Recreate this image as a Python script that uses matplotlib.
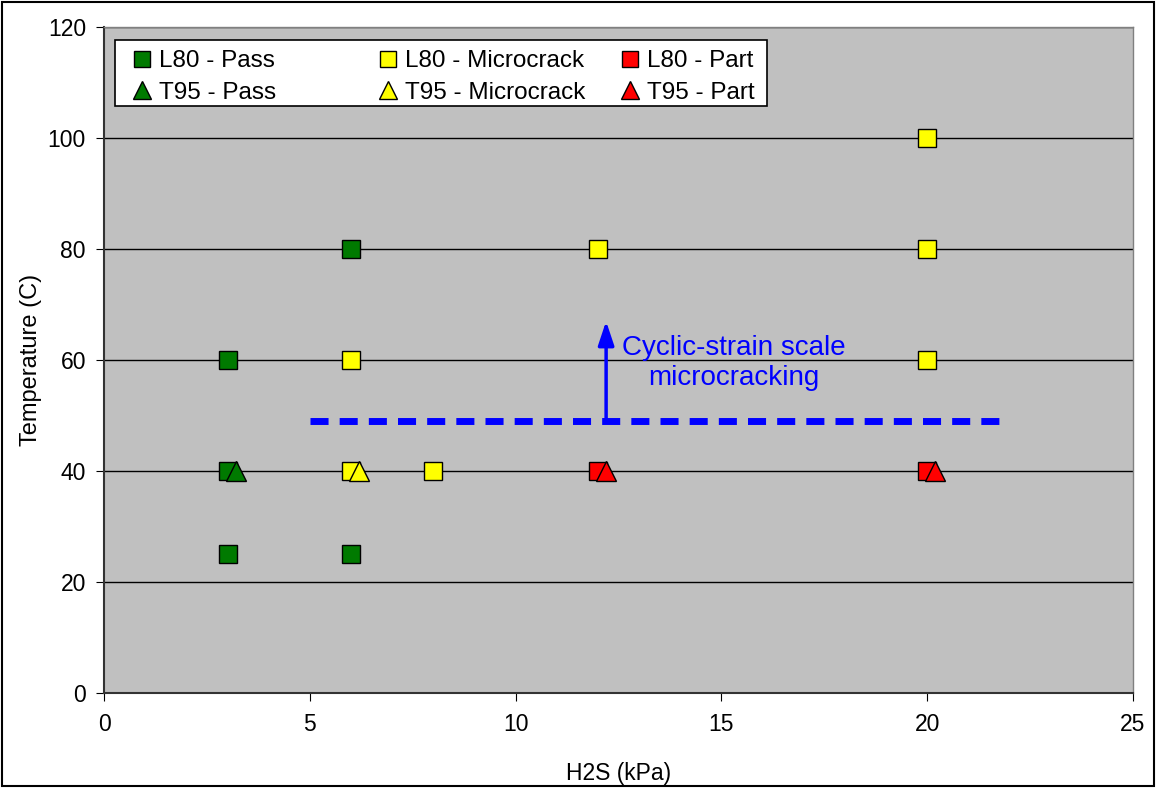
import matplotlib
matplotlib.use('Agg')
import matplotlib.pyplot as plt
from matplotlib.patches import Rectangle

plt.rcParams['font.family'] = ['Liberation Sans', 'DejaVu Sans']

# data
l80_pass_x = [3, 3, 3, 6, 6]
l80_pass_y = [60, 40, 25, 80, 25]
l80_micro_x = [6, 6, 8, 12, 20, 20, 20]
l80_micro_y = [60, 40, 40, 80, 100, 80, 60]
l80_part_x = [12, 20]
l80_part_y = [40, 40]
t95_pass_x = [3.2]
t95_pass_y = [40]
t95_micro_x = [6.2]
t95_micro_y = [40]
t95_part_x = [12.2, 20.2]
t95_part_y = [40, 40]

threshold_x = [5, 22]
threshold_y = [49, 49]
arrow_x = 12.2
arrow_y = (49, 67)

fig = plt.figure(figsize=(11.56, 7.88), dpi=100)
ax = fig.add_axes([0.090, 0.1206, 0.890, 0.845])
ax.set_facecolor('#C0C0C0')

for y in range(20, 121, 20):
    ax.axhline(y, color='black', lw=1.0, zorder=1)

ms = 13
kw = dict(linestyle='none', markeredgecolor='black', markeredgewidth=1.0, zorder=3)
h1, = ax.plot(l80_pass_x, l80_pass_y, 's', ms=ms, color='#007A00', label='L80 - Pass', **kw)
h2, = ax.plot(t95_pass_x, t95_pass_y, '^', ms=ms + 2, color='#007A00', label='T95 - Pass', **kw)
h3, = ax.plot(l80_micro_x, l80_micro_y, 's', ms=ms, color='#FFFF00', label='L80 - Microcrack', **kw)
h4, = ax.plot(t95_micro_x, t95_micro_y, '^', ms=ms + 2, color='#FFFF00', label='T95 - Microcrack', **kw)
h5, = ax.plot(l80_part_x, l80_part_y, 's', ms=ms, color='#FF0000', label='L80 - Part', **kw)
h6, = ax.plot(t95_part_x, t95_part_y, '^', ms=ms + 2, color='#FF0000', label='T95 - Part', **kw)

ax.plot(threshold_x, threshold_y, color='#0000FF', lw=5, dashes=(2.6, 1.6), zorder=2)
ax.annotate('', xy=(arrow_x, arrow_y[1]), xytext=(arrow_x, arrow_y[0]),
            arrowprops=dict(arrowstyle='-|>,head_length=0.9,head_width=0.3', color='#0000FF',
                            lw=2.5, mutation_scale=16, shrinkA=0, shrinkB=0), zorder=2)
ax.text(15.3, 59.4, 'Cyclic-strain scale\nmicrocracking', color='#0000FF',
        fontsize=20, ha='center', va='center', linespacing=1.2)

ax.set_xlim(0, 25)
ax.set_ylim(0, 120)
ax.set_xticks(range(0, 26, 5))
ax.set_yticks(range(0, 121, 20))
ax.tick_params(direction='out', length=6, labelsize=16.5, colors='black')
ax.tick_params(axis='x', pad=8.5)
ax.tick_params(axis='y', pad=7)
ax.set_xlabel('H2S (kPa)', fontsize=16.5, labelpad=19)
ax.set_ylabel('Temperature (C)', fontsize=17, labelpad=4)

for s in ['left', 'bottom']:
    ax.spines[s].set_color('#333333')
    ax.spines[s].set_linewidth(1.5)
for s in ['top', 'right']:
    ax.spines[s].set_color('#808080')
    ax.spines[s].set_linewidth(1.0)

# legend frame drawn separately: the original has wide side margins, tight top/bottom
ax.add_patch(Rectangle((0.0107, 0.8814), 0.6336, 0.0991, transform=ax.transAxes,
                       facecolor='white', edgecolor='black', lw=1.2, zorder=4))

# first column padded so the columns sit where the original legend puts them
pad = ' ' * 10
leg = ax.legend(handles=[h1, h2, h3, h4, h5, h6],
                labels=['L80 - Pass' + pad, 'T95 - Pass' + pad, 'L80 - Microcrack',
                        'T95 - Microcrack', 'L80 - Part', 'T95 - Part'],
                ncol=3, loc='upper left', bbox_to_anchor=(0.0262, 0.965), fontsize=17.5,
                frameon=False, borderaxespad=0, borderpad=0,
                handletextpad=0.25, columnspacing=1.38, markerscale=0.85,
                labelspacing=0.38, handlelength=0.9)
leg.set_zorder(5)

fig.patches.append(Rectangle((0.002, 0.002), 0.996, 0.996, transform=fig.transFigure,
                             fill=False, edgecolor='black', lw=1.5))

plt.savefig('out.png', dpi=100)
plt.close()
